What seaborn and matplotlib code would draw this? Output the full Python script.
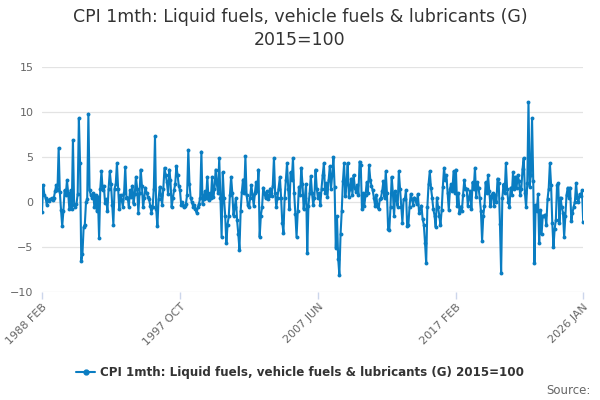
import numpy as np
import pandas as pd
import matplotlib
matplotlib.use("Agg")
import matplotlib.pyplot as plt
import seaborn as sns
from matplotlib.lines import Line2D

# ----------------------------- Data ----------------------------- #
title_text = "CPI 1mth: Liquid fuels, vehicle fuels & lubricants (G)\n2015=100"
series_name = "CPI 1mth: Liquid fuels, vehicle fuels & lubricants (G) 2015=100"
start_month = "1988-02"

# monthly % change, one row per 12 months (Feb .. Jan)
values = [
    -1.1, 1.9, 0.8, 0.5, -0.3, 0.2, 0.1, 0.3, 0.4, 0.2, 0.5, 1.2,
    1.9, 1.3, 6.0, 1.1, -0.9, -2.7, -1.0, 1.3, 0.8, 2.4, 1.0, -0.8,
    1.3, -0.8, 6.9, -0.3, -0.5, -0.2, 0.9, 9.3, 4.3, -6.5, -5.8, -2.8,
    -2.5, 0.0, 0.3, 9.8, 1.3, 0.8, 0.5, 1.0, -0.5, 0.8, -1.0, 0.6,
    -4.0, 1.5, 3.4, 1.3, 1.8, -0.1, 0.3, -1.0, 1.5, 3.4, 2.0, -0.3,
    -2.5, 1.5, 2.0, 4.3, 1.5, -0.8, 0.8, 0.2, -0.5, 1.0, 3.9, 0.5,
    0.5, -0.5, 1.3, 0.6, 1.8, -0.2, 0.9, 2.8, 1.5, -1.2, 1.0, 3.6,
    1.8, -0.6, 0.5, 1.6, 1.0, 0.6, 0.3, -0.4, -1.2, -0.6, 1.5, 7.3,
    -0.8, -2.7, 0.3, 1.7, 0.8, -0.3, 1.5, 3.8, 3.0, 2.2, 0.9, 3.6,
    2.4, -0.6, 0.4, 1.3, 2.0, 4.0, 3.0, 1.8, 1.3, -0.3, 0.0, -0.6,
    -0.4, -0.2, 0.8, 5.8, 2.0, 0.4, 0.0, -0.5, -0.3, -0.8, -1.2, -0.6,
    -0.2, 0.5, 5.6, -0.2, 0.3, 1.2, 0.5, 2.8, 0.2, 1.0, 0.4, 2.8,
    0.6, 1.5, 3.6, 2.0, 1.0, 4.9, 0.5, -3.9, 3.3, 0.4, -1.5, -4.6,
    -2.5, -1.6, 0.8, 2.8, 1.0, -1.5, -0.6, 0.4, -2.0, -3.5, -5.3, -1.0,
    1.1, 2.5, 1.0, 5.1, 0.8, -0.3, -0.6, 0.5, 1.9, 0.8, -0.4, 1.0,
    2.2, 1.2, 3.6, -3.9, -1.5, -0.6, 1.6, 1.0, 0.4, 1.2, 0.3, 0.7,
    1.5, 0.7, 1.8, 4.9, 1.0, -0.6, 0.5, 1.5, 2.8, 0.5, -2.3, -3.4,
    0.5, 2.4, 4.3, 1.5, -0.8, 3.3, 2.5, 4.9, 1.0, -1.3, -3.9, -1.0,
    1.7, 0.8, 3.8, 2.0, -0.8, 0.5, 2.0, -5.7, -0.4, 1.0, 2.9, 1.0,
    -0.3, 0.5, 3.6, 1.5, 0.4, 1.0, -0.3, 1.5, 3.0, 4.3, 1.0, 2.1,
    0.6, 2.5, 4.0, 1.5, 3.0, 5.0, 1.7, -5.1, -1.6, -6.3, -8.1, -3.6,
    -1.0, 2.3, 4.3, 0.7, 2.0, 4.3, 0.6, 1.5, 2.6, 0.8, 3.0, 1.6,
    1.1, 1.9, 0.8, 4.5, 4.1, -0.8, 1.0, -0.4, 0.8, 2.2, 1.0, 4.1,
    2.5, 1.8, 1.3, 0.5, -0.4, 0.8, -0.4, -0.8, 0.3, 0.5, 1.2, 2.3,
    0.5, 3.4, 1.0, -3.0, -3.1, -0.5, 2.8, 1.0, -1.6, 1.2, 0.3, -0.5,
    3.4, 1.5, -0.5, -2.3, 0.3, 0.3, 1.3, -2.7, -2.6, -0.5, 0.9, 0.3,
    -0.3, 0.5, 0.3, -0.2, 0.9, -1.2, -0.8, -0.4, -1.9, -2.5, -4.5, -6.8,
    -0.5, 2.0, 3.4, 1.6, 0.5, -0.8, -1.5, -2.8, 0.5, -0.6, -1.5, -2.6,
    -0.9, 1.7, 3.8, 2.5, 3.0, 1.0, -0.9, 1.5, 2.0, 1.2, 3.4, 1.0,
    3.6, -0.4, 1.0, -1.2, -0.5, -1.0, 0.8, 2.4, 1.5, 1.5, -0.4, 0.5,
    1.2, -0.8, 2.2, 1.5, 3.8, 0.6, 2.2, 1.6, 0.5, -1.0, -4.3, -1.5,
    -0.4, 2.2, 1.0, 3.0, 1.2, -0.4, 0.7, 1.0, -0.4, 0.8, 0.0, 2.6,
    2.1, -2.4, -7.9, 0.4, 2.0, 1.0, 4.3, 1.5, 0.0, -0.5, 1.6, 0.8,
    3.3, 1.5, 2.8, 1.6, 3.0, 2.3, 0.8, 1.5, 3.7, 4.9, 1.0, -0.6,
    2.1, 11.1, 1.7, 3.0, 9.3, 2.3, -6.8, -0.3, -1.0, 0.9, -4.6, -0.9,
    -3.6, -1.5, -1.6, -1.4, -2.5, 0.3, 1.5, 4.3, 1.9, -2.3, -5.0, -3.0,
    -2.0, 1.9, 2.1, -2.3, 0.5, -0.6, -1.2, -3.9, -1.5, 0.8, 1.6, 0.5,
    1.6, -2.1, -1.2, -0.5, 0.0, 2.1, 0.5, 0.0, 0.9, 0.7, 1.3, -2.2,
]
tick_labels = ["1988 FEB", "1997 OCT", "2007 JUN", "2017 FEB", "2026 JAN"]
y_ticks = [-10, -5, 0, 5, 10, 15]

months = pd.date_range(start_month, periods=len(values), freq="MS")
labels = [d.strftime("%Y %b").upper() for d in months]
df = pd.DataFrame({"pos": np.arange(len(values)), "label": labels, "value": values})

# ----------------------------- Plot ----------------------------- #
sns.set_theme(style="white")
plt.rcParams["font.family"] = ["DejaVu Sans"]

line_color = "#0a7dc2"
fig = plt.figure(figsize=(6, 4), dpi=100)
ax = fig.add_axes([0.07, 0.27, 0.902, 0.5625])

sns.lineplot(data=df, x="pos", y="value", ax=ax, color=line_color, linewidth=1.5,
             marker="o", markersize=2.8, markeredgewidth=0, zorder=3)

ax.set_xlim(df["pos"].min(), df["pos"].max())
ax.set_ylim(-10, 15)
ax.set_yticks(y_ticks)
ax.grid(axis="y", color="#e3e3e3", linewidth=0.9)
ax.grid(axis="x", visible=False)
for s in ax.spines.values():
    s.set_visible(False)

tick_pos = df.loc[df["label"].isin(tick_labels), "pos"].tolist()
ax.set_xticks(tick_pos)
ax.set_xticklabels(df.loc[df["pos"].isin(tick_pos), "label"], rotation=45,
                   ha="right", rotation_mode="anchor", fontsize=8, color="#666666")
ax.tick_params(axis="x", length=5, color="#ccd6eb", width=1, pad=2, bottom=True)
ax.tick_params(axis="y", labelsize=8, labelcolor="#666666", length=0, pad=6)
ax.set_xlabel("")
ax.set_ylabel("")

fig.suptitle(title_text, fontsize=12.5, color="#333333", y=0.98, linespacing=1.35)

handle = Line2D([], [], color=line_color, linewidth=1.5, marker="o", markersize=3.5)
fig.legend([handle], [series_name], loc="center", bbox_to_anchor=(0.5, 0.068),
           frameon=False, prop={"size": 8.6, "weight": "bold"}, labelcolor="#333333",
           handlelength=1.6, handletextpad=0.4)
fig.text(0.985, 0.025, "Source:", ha="right", va="center", fontsize=8.5, color="#666666")

fig.savefig("out.png", dpi=100)
